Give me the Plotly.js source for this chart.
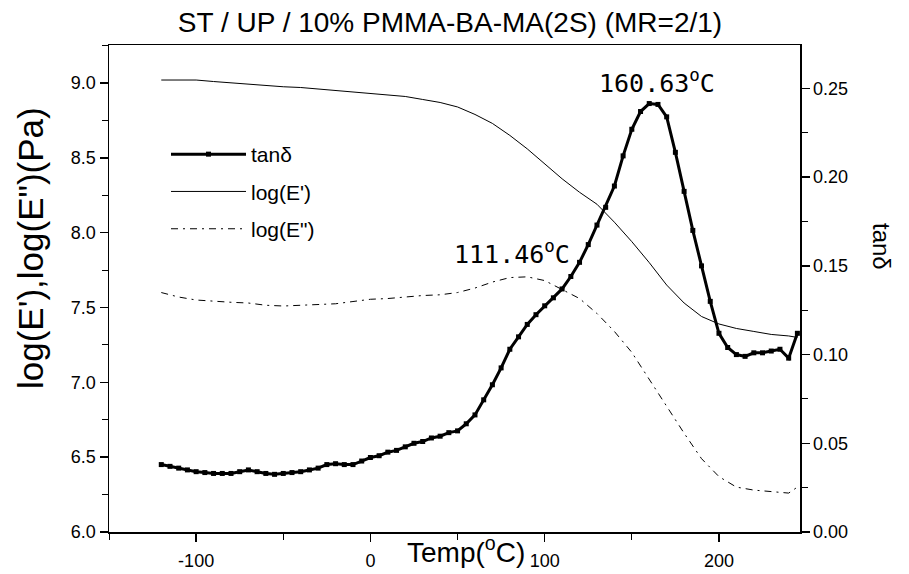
<!DOCTYPE html>
<html>
<head>
<meta charset="utf-8">
<script src="https://cdn.plot.ly/plotly-3.0.1.min.js"></script>
<style>html,body{margin:0;padding:0;background:#fff;}#chart{width:909px;height:574px;}</style>
</head>
<body>
<div id="chart"></div>
<script>
// ---- data ----
const tempTan = [-120,-115,-110,-105,-100,-95,-90,-85,-80,-75,-70,-65,-60,-55,-50,-45,-40,-35,-30,-25,-20,-15,-10,-5,0,5,10,15,20,25,30,35,40,45,50,55,60,65,70,75,80,85,90,95,100,105,110,115,120,125,130,135,140,145,150,155,160,165,170,175,180,185,190,195,200,205,210,215,220,225,230,235,240,245];
const tanDelta = [0.038,0.037,0.036,0.035,0.034,0.0335,0.033,0.033,0.033,0.034,0.035,0.034,0.033,0.0325,0.033,0.0335,0.034,0.035,0.036,0.038,0.0385,0.038,0.038,0.040,0.042,0.043,0.045,0.046,0.048,0.050,0.051,0.053,0.054,0.056,0.057,0.061,0.066,0.0745,0.083,0.0925,0.103,0.110,0.117,0.1225,0.1275,0.132,0.137,0.144,0.152,0.162,0.173,0.183,0.195,0.212,0.227,0.237,0.2415,0.241,0.234,0.214,0.192,0.170,0.150,0.130,0.112,0.104,0.100,0.099,0.101,0.101,0.102,0.103,0.098,0.112];

const tempMod = [-120,-110,-100,-90,-80,-70,-60,-50,-40,-30,-20,-10,0,10,20,30,40,50,60,70,80,90,100,110,120,130,140,150,160,170,180,190,200,210,220,230,240,245];
const logEStorage = [9.02,9.02,9.02,9.01,9.00,8.99,8.98,8.975,8.97,8.96,8.95,8.94,8.93,8.92,8.91,8.89,8.87,8.84,8.79,8.73,8.65,8.56,8.46,8.36,8.27,8.19,8.07,7.94,7.80,7.65,7.53,7.44,7.39,7.36,7.34,7.32,7.31,7.30];
const logELoss = [7.60,7.57,7.55,7.54,7.535,7.53,7.515,7.51,7.515,7.525,7.525,7.54,7.555,7.56,7.57,7.58,7.585,7.60,7.63,7.67,7.70,7.705,7.68,7.62,7.56,7.46,7.34,7.20,7.02,6.84,6.66,6.49,6.37,6.30,6.28,6.27,6.26,6.30];

const xTicks = [-100, 0, 100, 200];
const yLeftTicks = [6.0, 6.5, 7.0, 7.5, 8.0, 8.5, 9.0];
const yRightTicks = [0.00, 0.05, 0.10, 0.15, 0.20, 0.25];

const titleText = 'ST / UP / 10% PMMA-BA-MA(2S) (MR=2/1)';
const peak1Label = '160.63<sup>o</sup>C';
const peak2Label = '111.46<sup>o</sup>C';

// ---- layout helpers ----
const W = 909, H = 574, L = 109, R = 109, T = 45, B = 42;
const pw = W - L - R, ph = H - T - B;
const px = v => (v - L) / pw;
const py = v => (H - B - v) / ph;

const FONT = 'Liberation Sans, Arial, sans-serif';
const MONO = 'DejaVu Sans Mono, monospace';

const traces = [
  {x: tempTan, y: tanDelta, name: 'tan\u03b4', yaxis: 'y2', mode: 'lines+markers',
   line: {color: '#000', width: 3}, marker: {symbol: 'square', size: 5, color: '#000'}, legendgroup: 'a'},
  {x: tempMod, y: logEStorage, name: "log(E')", mode: 'lines',
   line: {color: '#000', width: 1}, legendgroup: 'b'},
  {x: tempMod, y: logELoss, name: 'log(E")', mode: 'lines',
   line: {color: '#000', width: 1, dash: '7px,5px,2px,5px'}, legendgroup: 'c'}
];

const axisCommon = {
  showgrid: false, zeroline: false, showline: true, linecolor: '#000', linewidth: 1.5,
  ticks: 'outside', ticklen: 8, tickwidth: 1.5, tickcolor: '#000',
  tickfont: {family: FONT, size: 18, color: '#000'}
};

const ann = (text, x, y, font, extra) => Object.assign({
  text: text, xref: 'paper', yref: 'paper', x: px(x), y: py(y), showarrow: false,
  xanchor: 'center', yanchor: 'middle', font: font
}, extra || {});

const layout = {
  width: W, height: H,
  margin: {l: L, r: R, t: T, b: B, pad: 0},
  paper_bgcolor: '#fff', plot_bgcolor: '#fff',
  showlegend: true,
  title: {text: titleText, font: {family: FONT, size: 28, color: '#000'},
          x: 450 / W, xref: 'container', xanchor: 'center', y: 1 - 22 / H, yref: 'container', yanchor: 'middle'},
  xaxis: Object.assign({}, axisCommon, {
    range: [-150, 246.5], tickvals: xTicks, ticktext: xTicks.map(String), mirror: true, ticklabelstandoff: 4,
    minor: {dtick: 50, tick0: 0, ticklen: 6, tickwidth: 1, tickcolor: '#000', ticks: 'outside'}
  }),
  yaxis: Object.assign({}, axisCommon, {
    range: [6.0, 9.254], tickvals: yLeftTicks, ticktext: yLeftTicks.map(v => v.toFixed(1)),
    minor: {dtick: 0.25, tick0: 6, ticklen: 6, tickwidth: 1, tickcolor: '#000', ticks: 'outside'}
  }),
  yaxis2: Object.assign({}, axisCommon, {
    overlaying: 'y', side: 'right', range: [0, 0.2745],
    tickvals: yRightTicks, ticktext: yRightTicks.map(v => v.toFixed(2)),
    minor: {dtick: 0.025, tick0: 0, ticklen: 6, tickwidth: 1, tickcolor: '#000', ticks: 'outside'}
  }),
  legend: {x: px(166), y: py(134), xanchor: 'left', yanchor: 'top', bgcolor: 'rgba(0,0,0,0)',
           font: {family: FONT, size: 21, color: '#000'}, itemwidth: 75, tracegroupgap: 7, traceorder: 'grouped'},
  annotations: [
    ann(peak1Label, 657, 82, {family: MONO, size: 25, color: '#000'}),
    ann(peak2Label, 512, 252, {family: MONO, size: 25, color: '#000'}),
    ann('Temp(<sup>o</sup>C)', 466, 550, {family: FONT, size: 28, color: '#000'}),
    ann("log(E'),log(E\")(Pa)", 30, 248, {family: FONT, size: 35, color: '#000'}, {textangle: -90}),
    ann('tan\u03b4', 881, 246, {family: FONT, size: 24, color: '#000'}, {textangle: 90})
  ]
};

Plotly.newPlot('chart', traces, layout, {displayModeBar: false, staticPlot: true});
</script>
</body>
</html>
